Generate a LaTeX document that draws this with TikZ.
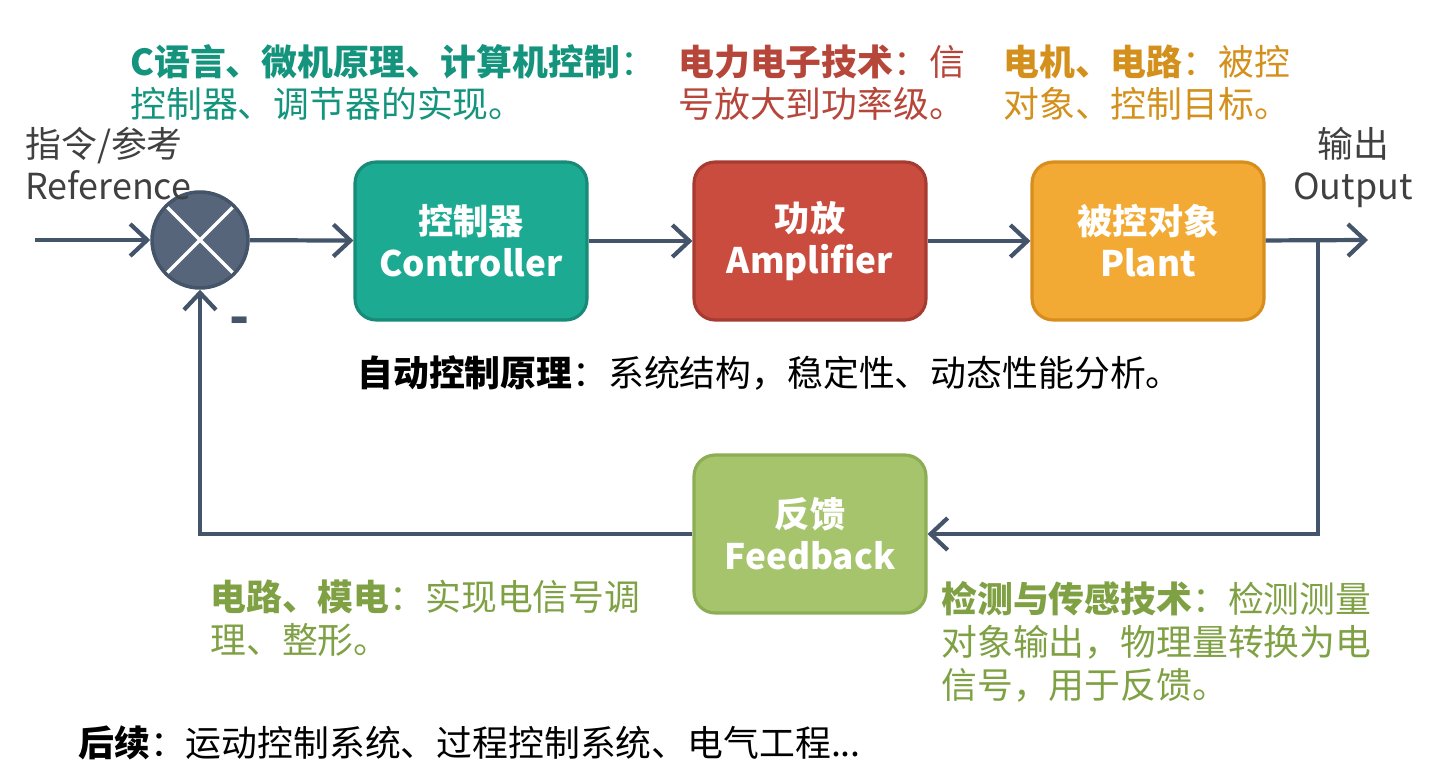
\documentclass[tikz,border=0pt]{standalone}
\usepackage{fontspec}
\setmainfont{Noto Sans CJK SC}
\usetikzlibrary{arrows.meta,positioning}
\definecolor{LineGray}{HTML}{44546A}
\definecolor{SumFill}{HTML}{56657A}
\definecolor{TextGray}{HTML}{404040}
\definecolor{CtrlFill}{HTML}{1CAA93}
\definecolor{CtrlEdge}{HTML}{178A78}
\definecolor{AmpFill}{HTML}{C94C3F}
\definecolor{AmpEdge}{HTML}{A63B31}
\definecolor{PlantFill}{HTML}{F2AA35}
\definecolor{PlantEdge}{HTML}{D88E1D}
\definecolor{FbFill}{HTML}{A5C46C}
\definecolor{FbEdge}{HTML}{8CAD53}
\definecolor{TealText}{HTML}{14937D}
\definecolor{RedText}{HTML}{B7463A}
\definecolor{OrangeText}{HTML}{D4901C}
\definecolor{GreenText}{HTML}{7FA144}

\tikzset{
  block/.style={draw, line width=1.8pt, rounded corners=12pt,
    minimum width=4.64cm, minimum height=3.16cm, align=center,
    text=white, font=\fontsize{20}{24}\selectfont\bfseries},
  sumnode/.style={circle, draw=LineGray, fill=SumFill, line width=2pt,
    minimum size=1.92cm,
    path picture={\draw[white,line width=2pt]
      (path picture bounding box.north west) -- (path picture bounding box.south east)
      (path picture bounding box.south west) -- (path picture bounding box.north east);}},
  flow/.style={draw=LineGray, line width=2.4pt, -{Straight Barb[length=3.4mm,width=6.4mm]}},
  note/.style={anchor=base west, align=left, inner sep=0pt,
    font=\fontsize{20.4}{24.3}\selectfont},
}

\begin{document}
\begin{tikzpicture}[x=0.02cm,y=-0.02cm]
  \useasboundingbox (0,0) rectangle (1432,783);

  % forward path
  \node[sumnode] (sum) at (200,240) {};
  \node[block,fill=CtrlFill,draw=CtrlEdge] (ctrl) at (471,241) {控制器\\Controller};
  \node[block,fill=AmpFill,draw=AmpEdge] (amp) at (810,241) {功放\\Amplifier};
  \node[block,fill=PlantFill,draw=PlantEdge] (plant) at (1148,241) {被控对象\\Plant};
  \node[block,fill=FbFill,draw=FbEdge] (fb) at (810,534) {反馈\\Feedback};

  \coordinate (in) at (35,240);
  \coordinate (out) at (1368,240);
  \coordinate (tap) at (1318,240);

  \draw[flow] (in) -- (sum);
  \draw[flow] (sum) -- (ctrl);
  \draw[flow] (ctrl) -- (amp);
  \draw[flow] (amp) -- (plant);
  \draw[flow] (plant) -- (out);
  % feedback loop
  \draw[flow] (tap) |- (fb);
  \draw[flow] (fb) -| (sum);

  \node[text=LineGray,font=\fontsize{30}{30}\selectfont\bfseries] (minus) at (240,326) {-};

  % signal labels (base = last line)
  \node[note,text=TextGray,font=\fontsize{20.4}{24}\selectfont] (ref) at (25,200) {指令/参考\\Reference};
  \node[note,anchor=base,align=center,text=TextGray,font=\fontsize{20.4}{24}\selectfont] (outlbl) at (1353,200) {输出\\Output};

  % course notes
  \node[note,text=TealText] (ntop1) at (130,118) {\textbf{C语言、微机原理、计算机控制}：\\控制器、调节器的实现。};
  \node[note,text=RedText] (ntop2) at (678,118) {\textbf{电力电子技术}：信\\号放大到功率级。};
  \node[note,text=OrangeText] (ntop3) at (1003,118) {\textbf{电机、电路}：被控\\对象、控制目标。};
  \node[note,text=black] (nmid) at (357,387) {\textbf{自动控制原理}：系统结构，稳定性、动态性能分析。};
  \node[note,text=GreenText] (nfb1) at (210,653) {\textbf{电路、模电}：实现电信号调\\理、整形。};
  \node[note,text=GreenText] (nfb2) at (941,698) {\textbf{检测与传感技术}：检测测量\\对象输出，物理量转换为电\\信号，用于反馈。};
  \node[note,text=black] (nend) at (78,756) {\textbf{后续}：运动控制系统、过程控制系统、电气工程...};
\end{tikzpicture}
\end{document}
